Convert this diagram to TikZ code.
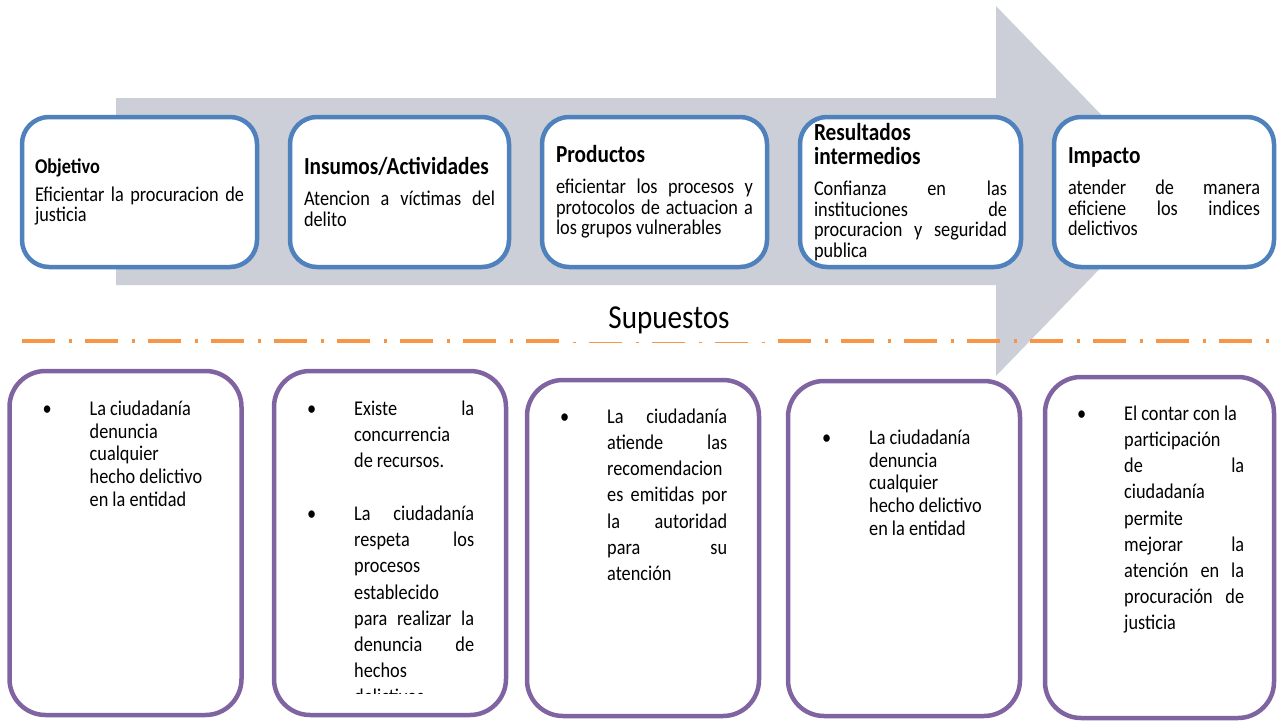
\documentclass[tikz,border=0pt]{standalone}
\usepackage{fontspec}
\setmainfont{Carlito}[FakeStretch=0.87]
\definecolor{arrowgray}{RGB}{204,207,215}
\definecolor{boxblue}{RGB}{79,129,189}
\definecolor{boxpurple}{RGB}{128,100,162}
\definecolor{lineorange}{RGB}{247,150,70}
\usetikzlibrary{positioning}

\newlength{\suptw}\setlength{\suptw}{120pt}
\newcommand{\jl}[2][\linewidth]{\makebox[#1][s]{\spaceskip=0pt\xspaceskip=0pt #2}}
\newcommand{\bfont}[1]{\fontsize{21}{#1}\selectfont\lineskiplimit=-30pt}
\newcommand{\headfont}{\fontsize{24.5}{24}\selectfont\bfseries}
\newcommand{\wordgap}{\spaceskip=4.1pt plus 2pt minus 1pt\xspaceskip=\spaceskip}
\newcommand{\supitem}[1]{\makebox[47pt][l]{\textbullet}\parbox[t]{\suptw}{\raggedright#1}\par}

\begin{document}
\begin{tikzpicture}[x=1pt, y=-1pt,
    topbox/.style={draw=boxblue, line width=4.5pt, fill=white, rounded corners=27pt,
      minimum height=150pt, inner xsep=14pt, inner ysep=0pt, outer sep=0pt,
      font={\bfont{20.5}}, execute at begin node=\wordgap},
    supbox/.style={draw=boxpurple, line width=4.5pt, fill=white, rounded corners=36pt,
      minimum width=232pt, outer sep=0pt},
    suptext/.style={inner sep=0pt, text width=167pt, execute at begin node=\wordgap}]
  \useasboundingbox (0,0) rectangle (1278,723);

  % big arrow behind the chain
  \fill[arrowgray] (116,98) -- (996,98) -- (996,6) -- (1175,191) -- (996,376)
    -- (996,285) -- (116,285) -- cycle;

  % chain of results
  \node[topbox, text width=209pt, inner xsep=13pt] (obj) at (139.5,192) {
    {\bfseries Objetivo}\par\vspace{7.5pt}
    \jl{Eficientar la procuracion de}\\justicia};
  \node[topbox, text width=191pt, right=33pt of obj] (ins) {
    {\headfont Insumos/Actividades\par}\vspace{10.5pt}
    \jl{Atencion a víctimas del}\\delito};
  \node[topbox, text width=197pt, right=33pt of ins] (prod) {
    {\headfont Productos\par}\vspace{10.5pt}
    \jl{eficientar los procesos y}\\\jl{protocolos de actuacion a}\\los grupos vulnerables};
  \node[topbox, text width=193pt, right=33pt of prod] (res) {
    {\headfont Resultados\\intermedios\par}\vspace{10.5pt}
    \jl{Confianza en las}\\\jl{instituciones de}\\\jl{procuracion y seguridad}\\publica};
  \node[topbox, text width=192pt, right=33pt of res] (imp) {
    {\headfont Impacto\par}\vspace{10.5pt}
    \jl{atender de manera}\\\jl{eficiene los indices}\\delictivos};

  % divider
  \draw[lineorange, line width=4.5pt, dash pattern=on 33pt off 13.5pt on 3pt off 13.5pt]
    (22,341) -- (1278,341);
  \node[fill=white, minimum width=208pt, minimum height=42pt, inner sep=0pt,
        font=\fontsize{33.5}{33}\selectfont] (sup) at (669,320.5) {Supuestos};

  % assumptions
  \node[supbox, minimum height=344pt] (s1) at (125.5,543) {};
  \node[supbox, minimum height=344pt] (s2) at (390,543) {};
  \node[supbox, minimum height=336pt] (s3) at (643,548) {};
  \node[supbox, minimum height=335pt] (s4) at (904,548.5) {};
  \node[supbox, minimum width=229pt, minimum height=341pt] (s5) at (1159.5,547.5) {};

  \node[suptext, font={\bfont{22.8}}, below right=29.5pt and 33pt of s1.north west] (s1txt) {
    \supitem{La ciudadanía\\denuncia\\cualquier\\hecho delictivo\\en la entidad}};
  \begin{scope}
    \clip (s2.north west) rectangle ([yshift=22pt]s2.south east);
    \node[suptext, font={\bfont{26.2}}, below right=29.5pt and 33pt of s2.north west] (s2txt) {
      \supitem{\jl[\suptw]{Existe la}\\concurrencia\\de recursos.}
      \prevdepth=0pt\vspace{26.5pt}
      \supitem{\jl[\suptw]{La ciudadanía}\\\jl[\suptw]{respeta los}\\procesos\\establecido\\
        \jl[\suptw]{para realizar la}\\\jl[\suptw]{denuncia de}\\hechos\\delictivos}};
  \end{scope}
  \node[suptext, font={\bfont{26.2}}, below right=28.5pt and 33pt of s3.north west] (s3txt) {
    \supitem{\jl[\suptw]{La ciudadanía}\\\jl[\suptw]{atiende las}\\recomendacion\\
      \jl[\suptw]{es emitidas por}\\\jl[\suptw]{la autoridad}\\\jl[\suptw]{para su}\\atención}};
  \node[suptext, font={\bfont{22.8}}, below right=48.5pt and 34pt of s4.north west] (s4txt) {
    \supitem{La ciudadanía\\denuncia\\cualquier\\hecho delictivo\\en la entidad}};
  \node[suptext, font={\bfont{26.2}}, below right=28.5pt and 32pt of s5.north west] (s5txt) {
    \supitem{El contar con la\\participación\\\jl[\suptw]{de la}\\ciudadanía\\permite\\
      \jl[\suptw]{mejorar la}\\\jl[\suptw]{atención en la}\\\jl[\suptw]{procuración de}\\justicia}};
\end{tikzpicture}
\end{document}
